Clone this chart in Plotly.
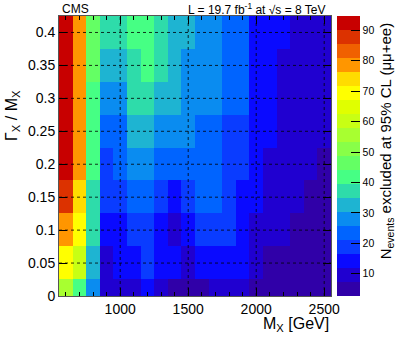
import plotly.graph_objects as go

# bin centres
mass_gev = [600, 700, 800, 900, 1000, 1100, 1200, 1300, 1400, 1500,
            1600, 1700, 1800, 1900, 2000, 2100, 2200, 2300, 2400, 2500]
width_ratio = [0.0, 0.05, 0.1, 0.15, 0.2, 0.25, 0.3, 0.35, 0.4]

# N events excluded at 95% CL, one list per width row (bottom -> top)
n_w000 = [55.5, 42, 28, 9.5, 9.5, 9.5, 14, 9.5, 5, 5, 5, 9.5, 9.5, 9.5, 5, 5, 5, 5, 5, 5]
n_w005 = [69.5, 60, 32.5, 9.5, 14, 14, 19, 14, 14, 9.5, 14, 14, 14, 14, 9.5, 5, 5, 5, 5, 5]
n_w010 = [78.5, 69.5, 37, 14, 14, 19, 19, 14, 9.5, 14, 19, 19, 19, 14, 9.5, 9.5, 9.5, 5, 5, 5]
n_w015 = [88, 74, 37, 19, 19, 23.5, 23.5, 19, 14, 19, 23.5, 23.5, 19, 14, 14, 9.5, 9.5, 9.5, 5, 5]
n_w020 = [92.5, 78.5, 42, 19, 23.5, 28, 28, 23.5, 23.5, 23.5, 23.5, 23.5, 19, 19, 14, 9.5, 9.5, 9.5, 9.5, 5]
n_w025 = [92.5, 78.5, 42, 23.5, 23.5, 32.5, 32.5, 28, 28, 28, 23.5, 23.5, 19, 19, 14, 14, 9.5, 9.5, 9.5, 9.5]
n_w030 = [92.5, 78.5, 42, 28, 28, 37, 37, 32.5, 32.5, 28, 28, 28, 23.5, 23.5, 14, 14, 9.5, 9.5, 9.5, 9.5]
n_w035 = [92.5, 78.5, 46.5, 32.5, 32.5, 37, 42, 37, 32.5, 28, 28, 28, 23.5, 23.5, 14, 14, 9.5, 9.5, 9.5, 9.5]
n_w040 = [92.5, 78.5, 46.5, 37, 37, 42, 42, 37, 32.5, 32.5, 28, 28, 23.5, 23.5, 14, 14, 14, 9.5, 9.5, 9.5]

z_rows = [n_w000, n_w005, n_w010, n_w015, n_w020, n_w025, n_w030, n_w035, n_w040]

# 20-level palette (low -> high)
palette = ["#3000a8", "#2000d0", "#0a0aff", "#0a3cff", "#0064ff",
           "#0a8cf0", "#1eb4d2", "#2edcaa", "#46ff84", "#64ff64",
           "#88ff48", "#a8ff30", "#c8ff14", "#e0ff00", "#ffff00",
           "#ffdc00", "#ff9600", "#f06000", "#dc3200", "#c80000"]
z_lo, z_hi = 2.7, 94.7

cscale = []
for i, c in enumerate(palette):
    cscale.append([i / len(palette), c])
    cscale.append([(i + 1) / len(palette), c])

x_major = [1000, 1500, 2000, 2500]
y_major = [0.05, 0.1, 0.15, 0.2, 0.25, 0.3, 0.35, 0.4]

fnt = "Liberation Sans, Arial, sans-serif"

fig = go.Figure()
fig.add_trace(go.Heatmap(
    x=mass_gev, y=width_ratio, z=z_rows,
    zmin=z_lo, zmax=z_hi, colorscale=cscale,
    xgap=0, ygap=0,
    colorbar=dict(
        x=1.022, xanchor="left", xpad=0, ypad=0,
        y=0.5, yanchor="middle", len=1.0, lenmode="fraction",
        thickness=23, outlinewidth=0,
        tickvals=[10, 20, 30, 40, 50, 60, 70, 80, 90],
        ticks="inside", ticklen=9, tickcolor="black", tickwidth=1,
        tickfont=dict(family=fnt, size=10.5, color="black"),
    ),
))

# dotted grid drawn over the cells, as in the original
for xv in x_major:
    fig.add_shape(type="line", xref="x", yref="paper", x0=xv, x1=xv, y0=0, y1=1,
                  line=dict(color="black", width=0.8, dash="dot"), layer="above")
for yv in y_major:
    fig.add_shape(type="line", xref="paper", yref="y", x0=0, x1=1, y0=yv, y1=yv,
                  line=dict(color="black", width=0.8, dash="dot"), layer="above")

fig.update_layout(
    width=399, height=349,
    margin=dict(l=59, r=68, t=16, b=53),
    paper_bgcolor="white", plot_bgcolor="white",
    font=dict(family=fnt, color="black"),
    xaxis=dict(
        range=[550, 2550], tickvals=x_major, ticks="inside", ticklen=8,
        tickcolor="black", showgrid=False, zeroline=False,
        showline=True, linecolor="#555", linewidth=1, mirror="ticks",
        minor=dict(dtick=100, tick0=0, ticks="inside", ticklen=4, tickcolor="black"),
        tickfont=dict(size=14), layer="above traces",
    ),
    yaxis=dict(
        range=[0, 0.425], tickvals=[0] + y_major,
        ticktext=["0", "0.05", "0.1", "0.15", "0.2", "0.25", "0.3", "0.35", "0.4"],
        ticks="inside", ticklen=8, tickcolor="black", showgrid=False, zeroline=False,
        showline=True, linecolor="#555", linewidth=1, mirror="ticks",
        tickfont=dict(size=14), layer="above traces",
    ),
    annotations=[
        dict(text="M<sub>X</sub> [GeV]", xref="paper", yref="paper", x=1.0, y=-0.1,
             xanchor="right", yanchor="middle", showarrow=False, font=dict(size=16)),
        dict(text="Γ<sub>X</sub> / M<sub>X</sub>", xref="paper", yref="paper",
             x=-0.169, y=0.643, xanchor="center", yanchor="middle", textangle=-90,
             showarrow=False, font=dict(size=16)),
        dict(text="N<sub>events</sub> excluded at 95% CL (μμ+ee)", xref="paper", yref="paper",
             x=1.202, y=0.986, xanchor="center", yanchor="top", textangle=-90,
             showarrow=False, font=dict(size=15)),
        dict(text="CMS", xref="paper", yref="paper", x=0.004, y=1.025,
             xanchor="left", yanchor="middle", showarrow=False, font=dict(size=12)),
        dict(text="L = 19.7 fb<sup>-1</sup> at √s = 8 TeV", xref="paper", yref="paper",
             x=0.985, y=1.025, xanchor="right", yanchor="middle", showarrow=False,
             font=dict(size=12)),
    ],
)

# the page's default body margin would shift the figure by 8 px
fig.write_html("out.html", config={"displayModeBar": False},
               post_script="document.body.style.margin='0';")
